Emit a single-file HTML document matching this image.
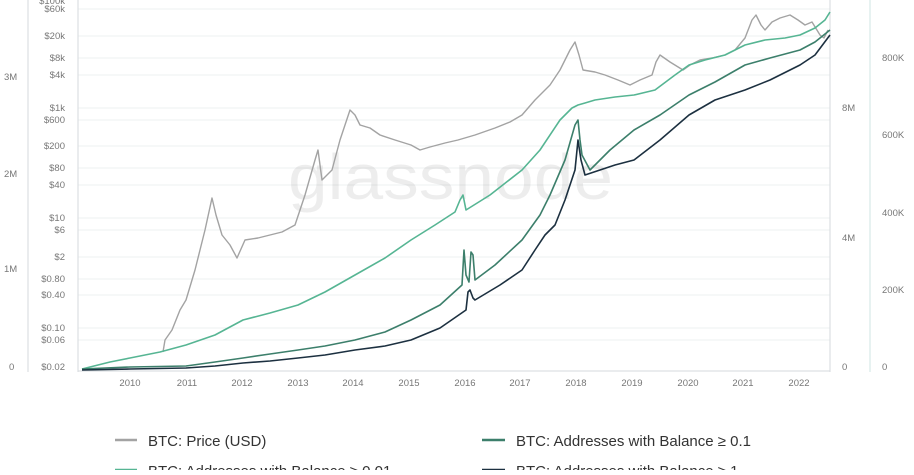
<!DOCTYPE html>
<html><head><style>
body{margin:0;background:#fff;width:914px;height:470px;overflow:hidden;font-family:"Liberation Sans",sans-serif}
</style></head><body>
<svg width="914" height="470" xmlns="http://www.w3.org/2000/svg" font-family="Liberation Sans, sans-serif">
<g stroke="#eef0f2" stroke-width="1">
<line x1="78" x2="830" y1="9" y2="9"/><line x1="78" x2="830" y1="36" y2="36"/><line x1="78" x2="830" y1="58" y2="58"/><line x1="78" x2="830" y1="75" y2="75"/>
<line x1="78" x2="830" y1="108" y2="108"/><line x1="78" x2="830" y1="120" y2="120"/><line x1="78" x2="830" y1="146" y2="146"/><line x1="78" x2="830" y1="168" y2="168"/><line x1="78" x2="830" y1="185" y2="185"/>
<line x1="78" x2="830" y1="218" y2="218"/><line x1="78" x2="830" y1="230" y2="230"/><line x1="78" x2="830" y1="257" y2="257"/><line x1="78" x2="830" y1="279" y2="279"/><line x1="78" x2="830" y1="295" y2="295"/>
<line x1="78" x2="830" y1="328" y2="328"/><line x1="78" x2="830" y1="340" y2="340"/>
</g>
<line x1="28" y1="0" x2="28" y2="372" stroke="#d5dadd"/>
<line x1="78" y1="0" x2="78" y2="372" stroke="#d5dadd"/>
<line x1="78" y1="371" x2="830" y2="371" stroke="#d5dadd"/>
<line x1="830" y1="0" x2="830" y2="372" stroke="#d5dadd"/>
<line x1="870" y1="0" x2="870" y2="372" stroke="#cfe6e3"/>
<text x="288" y="199" font-size="64" fill="#000" fill-opacity="0.07" textLength="325" lengthAdjust="spacingAndGlyphs">glassnode</text>
<g font-size="9.5" fill="#777" text-anchor="end">
<text x="65" y="4">$100k</text><text x="65" y="12">$60k</text><text x="65" y="39">$20k</text><text x="65" y="61">$8k</text><text x="65" y="78">$4k</text>
<text x="65" y="111">$1k</text><text x="65" y="123">$600</text><text x="65" y="149">$200</text><text x="65" y="171">$80</text><text x="65" y="188">$40</text>
<text x="65" y="221">$10</text><text x="65" y="233">$6</text><text x="65" y="260">$2</text><text x="65" y="282">$0.80</text><text x="65" y="298">$0.40</text>
<text x="65" y="331">$0.10</text><text x="65" y="343">$0.06</text><text x="65" y="370">$0.02</text>
</g>
<g font-size="9.5" fill="#777">
<text x="4" y="80">3M</text><text x="4" y="177">2M</text><text x="4" y="272">1M</text><text x="9" y="370">0</text>
<text x="842" y="111">8M</text><text x="842" y="241">4M</text><text x="842" y="370">0</text>
<text x="882" y="61">800K</text><text x="882" y="138">600K</text><text x="882" y="216">400K</text><text x="882" y="293">200K</text><text x="882" y="370">0</text>
</g>
<g font-size="9.5" fill="#777" text-anchor="middle">
<text x="130" y="386">2010</text><text x="187" y="386">2011</text><text x="242" y="386">2012</text><text x="298" y="386">2013</text><text x="353" y="386">2014</text><text x="409" y="386">2015</text><text x="465" y="386">2016</text><text x="520" y="386">2017</text><text x="576" y="386">2018</text><text x="632" y="386">2019</text><text x="688" y="386">2020</text><text x="743" y="386">2021</text><text x="799" y="386">2022</text>
</g>
<g fill="none" stroke-width="1.6" stroke-linejoin="round">
<polyline stroke="#a3a3a3" stroke-width="1.4" points="163,352 165,340 172,330 180,310 186,300 195,270 205,230 212,198 216,215 222,235 230,245 237,258 245,240 258,238 270,235 282,232 295,225 305,195 315,160 318,150 322,180 332,170 340,140 350,110 355,115 360,125 370,128 380,135 395,140 411,145 420,150 430,147 445,143 458,140 475,135 495,128 510,122 522,115 535,100 550,85 560,70 570,50 575,42 579,55 583,70 595,72 605,75 618,80 630,85 640,80 652,75 656,62 660,55 670,62 683,70 690,65 700,60 712,58 725,55 735,50 745,38 752,20 756,15 761,25 765,30 772,22 780,18 790,15 798,20 805,25 812,22 820,35 824,38 828,30"/>
<polyline stroke="#56b593" points="82,369 110,362 130,358 160,352 186,345 215,335 243,320 270,313 298,305 325,292 355,275 385,258 411,240 435,225 455,212 460,200 463,195 466,210 490,195 522,170 540,150 560,120 572,108 578,105 585,103 595,100 615,97 634,95 655,90 675,75 689,65 705,60 725,55 745,45 765,40 785,38 800,35 815,28 825,20 830,12"/>
<polyline stroke="#3c7f6b" points="82,369 130,367 186,366 215,362 243,358 270,354 298,350 325,346 355,340 385,332 411,320 440,305 462,285 464,250 466,275 469,282 471,252 473,255 475,280 495,265 522,240 540,215 550,195 565,160 575,125 578,120 580,140 582,155 590,170 610,150 634,130 660,115 689,95 715,82 745,65 770,58 800,50 815,42 830,30"/>
<polyline stroke="#1c3040" points="82,370 130,369 186,368 215,366 243,363 270,361 298,358 325,355 355,350 385,346 411,340 440,328 466,310 468,292 470,290 473,298 475,300 500,285 522,270 535,250 545,235 555,225 565,200 575,170 578,140 581,160 585,175 600,170 615,165 634,160 660,140 689,115 715,100 745,90 770,80 800,65 815,55 830,35"/>
</g>
<line x1="115" y1="440" x2="137" y2="440" stroke="#a3a3a3" stroke-width="2.5"/>
<text x="148" y="446" font-size="15" fill="#333">BTC: Price (USD)</text>
<line x1="482" y1="440" x2="505" y2="440" stroke="#3c7f6b" stroke-width="2.5"/>
<text x="516" y="446" font-size="15" fill="#333">BTC: Addresses with Balance ≥ 0.1</text>
<line x1="115" y1="470" x2="137" y2="470" stroke="#56b593" stroke-width="2.5"/>
<text x="148" y="476" font-size="15" fill="#333">BTC: Addresses with Balance ≥ 0.01</text>
<line x1="482" y1="470" x2="505" y2="470" stroke="#1c3040" stroke-width="2.5"/>
<text x="516" y="476" font-size="15" fill="#333">BTC: Addresses with Balance ≥ 1</text>
</svg>
</body></html>
